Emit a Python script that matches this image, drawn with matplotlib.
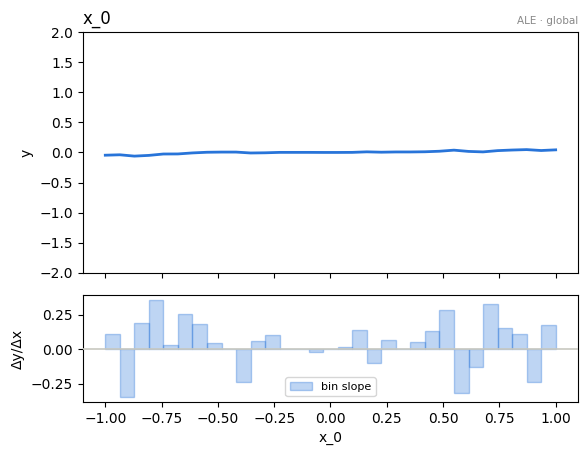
import matplotlib
matplotlib.use("Agg")
import matplotlib.pyplot as plt
import numpy as np

# ALE curve values at bin edges
x_edges = np.linspace(-1.0, 1.0, 32)
ale_values = [-0.045, -0.038, -0.060, -0.048, -0.025, -0.024, -0.007, 0.004,
              0.007, 0.007, -0.008, -0.005, 0.002, 0.002, 0.002, 0.001,
              0.001, 0.002, 0.011, 0.005, 0.009, 0.009, 0.012, 0.021,
              0.039, 0.018, 0.010, 0.031, 0.041, 0.048, 0.033, 0.044]

# per-bin slopes
bin_slopes = [0.107, -0.345, 0.187, 0.355, 0.029, 0.253, 0.180, 0.042,
              0.0, -0.235, 0.056, 0.100, 0.0, 0.0, -0.017, 0.0,
              0.015, 0.138, -0.097, 0.066, 0.0, 0.049, 0.131, 0.284,
              -0.316, -0.126, 0.326, 0.151, 0.107, -0.235, 0.173]

feature = "x_0"
blue = "#2874d9"

fig = plt.figure(figsize=(5.87, 4.54), dpi=100)
ax1 = fig.add_axes([0.141, 0.3987, 0.844, 0.5308])
ax2 = fig.add_axes([0.141, 0.115, 0.844, 0.2346], sharex=ax1)

ax1.plot(x_edges, ale_values, color=blue, lw=2)
ax1.set_ylim(-2, 2)
ax1.set_yticks(np.arange(-2, 2.01, 0.5))
ax1.set_ylabel("y")
ax1.set_title(feature, loc="left", fontsize=12)
ax1.text(1.0, 1.025, "ALE · global", transform=ax1.transAxes, ha="right",
         va="bottom", fontsize=7.5, color="#888888")
plt.setp(ax1.get_xticklabels(), visible=False)

width = x_edges[1] - x_edges[0]
ax2.bar(x_edges[:-1], bin_slopes, width=width, align="edge",
        facecolor=(40/255, 116/255, 217/255, 0.3),
        edgecolor=(40/255, 116/255, 217/255, 0.35), lw=1, label="bin slope")
ax2.axhline(0, color="#c8c8c0", lw=1.2, zorder=3)
ax2.set_ylabel("Δy/Δx")
ax2.set_xlabel(feature)
ax2.set_xticks([-1.0, -0.75, -0.5, -0.25, 0.0, 0.25, 0.5, 0.75, 1.0])
ax2.legend(loc="lower center", fontsize=8)

fig.savefig("out.png", dpi=100)
